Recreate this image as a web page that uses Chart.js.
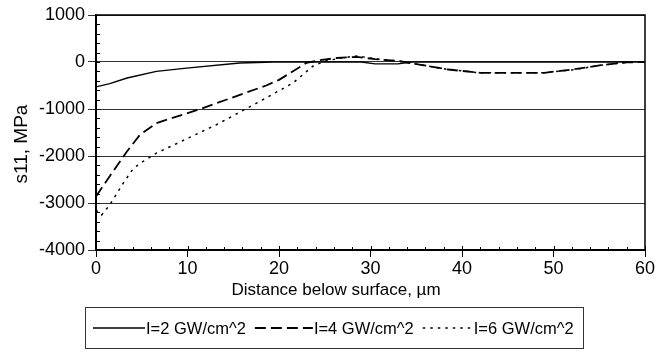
<!DOCTYPE html>
<html>
<head>
<meta charset="utf-8">
<script src="https://cdn.jsdelivr.net/npm/chart.js@4.4.0/dist/chart.umd.min.js"></script>
<style>
  html, body { margin: 0; padding: 0; background: #fff; }
  #wrap { width: 672px; height: 361px; }
</style>
</head>
<body>
<div id="wrap"><canvas id="chart" width="672" height="361"></canvas></div>
<script>
const FONT = '"Liberation Sans", Arial, Helvetica, sans-serif';

// ---------------- data ----------------
// depth below surface, um  /  stress s11, MPa
const depthI2 = [0, 1.5, 3.4, 6.6, 9.9, 15.7, 19.4, 29, 30.5, 33, 34.5, 60];
const s11I2   = [-530, -460, -340, -200, -130, -20, 0, 0, -40, -40, 0, 0];

const depthI4 = [0, 1.5, 3.4, 4.8, 6.6, 11.4, 18.6, 20, 23, 24.5, 26.3, 28.5, 30.5, 33, 35.5, 38.5, 42, 49, 52, 55.5, 58, 60];
const s11I4   = [-2860, -2430, -1900, -1550, -1300, -1000, -500, -380, -20, 40, 85, 110, 60, 25, -60, -160, -230, -230, -160, -60, -10, 0];

const depthI6 = [0, 0.6, 1.5, 2.3, 3.0, 4.1, 5.2, 6.6, 13.2, 17.6, 21.5, 23.7, 25, 27, 28.5, 30.5, 33, 35.5, 38.5, 42, 49, 52, 55.5, 58, 60];
const s11I6   = [-3150, -3260, -3040, -2790, -2570, -2260, -2110, -1940, -1330, -870, -450, -90, 20, 90, 130, 70, 20, -60, -160, -230, -230, -170, -60, -10, 0];

const seriesLabels = ['I=2 GW/cm^2', 'I=4 GW/cm^2', 'I=6 GW/cm^2'];
const xTitle = 'Distance below surface, \u00b5m';
const yTitle = 's11, MPa';

// ---------------- helpers ----------------
const pts = (xs, ys) => xs.map((x, i) => ({ x, y: ys[i] }));

// frame, inner minor ticks, axis titles and boxed legend
const decorations = {
  id: 'decorations',
  afterDraw(chart) {
    const { ctx, chartArea: a, scales: { x, y } } = chart;
    ctx.save();
    ctx.strokeStyle = '#000';

    // top / right border of plot box
    ctx.lineWidth = 1.5;
    ctx.beginPath();
    ctx.moveTo(a.left, a.top);
    ctx.lineTo(a.right, a.top);
    ctx.lineTo(a.right, a.bottom);
    ctx.stroke();

    // inward ticks
    ctx.lineWidth = 1;
    ctx.beginPath();
    for (let v = x.min; v <= x.max; v += 2) {
      const px = Math.round(x.getPixelForValue(v)) + 0.5;
      const len = v % 10 === 0 ? 4 : 3;
      ctx.moveTo(px, a.bottom);
      ctx.lineTo(px, a.bottom - len);
    }
    for (let v = y.min; v <= y.max; v += 200) {
      const py = Math.round(y.getPixelForValue(v)) + 0.5;
      ctx.moveTo(a.left, py);
      ctx.lineTo(a.left + 4, py);
    }
    ctx.stroke();

    // axis titles
    ctx.fillStyle = '#000';
    ctx.font = '17px ' + FONT;
    ctx.textAlign = 'center';
    ctx.textBaseline = 'middle';
    ctx.fillText(xTitle, 336, 290);
    ctx.save();
    ctx.translate(22, 144);
    ctx.rotate(-Math.PI / 2);
    ctx.font = '19px ' + FONT;
    ctx.fillText(yTitle, 0, 0);
    ctx.restore();

    // legend
    const box = { l: 85.5, t: 307.5, w: 498, h: 41 };
    ctx.lineWidth = 1;
    ctx.strokeStyle = '#333';
    ctx.strokeRect(box.l, box.t, box.w, box.h);
    const cy = box.t + box.h / 2;
    const sampleLen = [52, 58, 50];
    let cx = 93;
    ctx.textAlign = 'left';
    ctx.font = '16.5px ' + FONT;
    chart.data.datasets.forEach((ds, i) => {
      const sw = sampleLen[i];
      ctx.save();
      ctx.strokeStyle = '#000';
      ctx.lineWidth = ds.borderWidth;
      ctx.setLineDash(ds.borderDash || []);
      ctx.beginPath();
      ctx.moveTo(cx, cy);
      ctx.lineTo(cx + sw, cy);
      ctx.stroke();
      ctx.restore();
      cx += sw + 1;
      ctx.fillText(ds.label, cx, cy + 1);
      cx += ctx.measureText(ds.label).width + 9;
    });
    ctx.restore();
  }
};

// ---------------- chart ----------------
new Chart(document.getElementById('chart'), {
  type: 'line',
  data: {
    datasets: [
      { label: seriesLabels[0], data: pts(depthI2, s11I2), borderColor: '#000', borderWidth: 1.4, borderDash: [] },
      { label: seriesLabels[1], data: pts(depthI4, s11I4), borderColor: '#000', borderWidth: 1.8, borderDash: [11, 5] },
      { label: seriesLabels[2], data: pts(depthI6, s11I6), borderColor: '#000', borderWidth: 1.5, borderDash: [2.5, 5] },
    ],
  },
  options: {
    responsive: false,
    animation: false,
    devicePixelRatio: 1,
    layout: { padding: { left: 0, right: 27, top: 15, bottom: 0 } },
    elements: { point: { radius: 0 }, line: { tension: 0, fill: false } },
    plugins: { legend: { display: false }, tooltip: { enabled: false } },
    scales: {
      x: {
        type: 'linear',
        min: 0,
        max: 60,
        afterFit: (s) => { s.height = 111; },
        ticks: { stepSize: 10, color: '#000', padding: 1, maxRotation: 0, font: { family: FONT, size: 18 } },
        grid: { drawOnChartArea: false, drawTicks: true, tickLength: 7, color: '#000', lineWidth: 1 },
        border: { display: true, color: '#000', width: 2 },
      },
      y: {
        type: 'linear',
        min: -4000,
        max: 1000,
        afterFit: (s) => { s.width = 96; },
        ticks: { stepSize: 1000, color: '#000', padding: 3, font: { family: FONT, size: 18 }, callback: (v) => String(v) },
        grid: { color: '#333', lineWidth: 1, tickLength: 8, drawTicks: true },
        border: { display: true, color: '#000', width: 2 },
      },
    },
  },
  plugins: [decorations],
});
</script>
</body>
</html>
